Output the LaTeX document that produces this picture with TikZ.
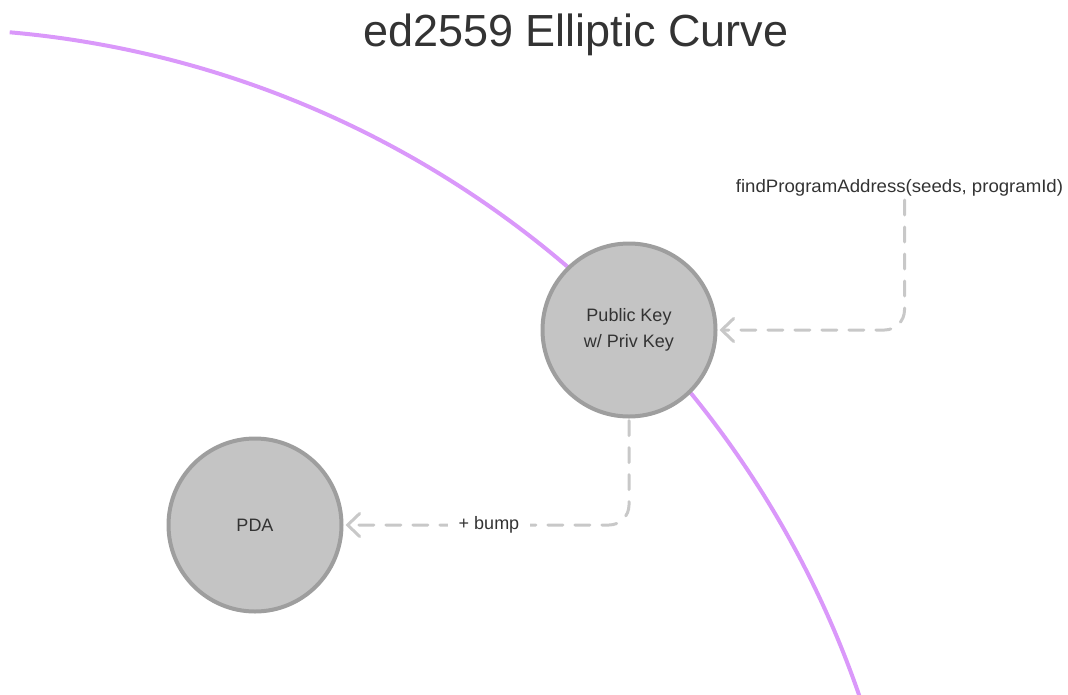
\documentclass[tikz,border=0pt]{standalone}
\usepackage{fontspec}
\setmainfont{Liberation Sans}
\usetikzlibrary{arrows.meta}
\definecolor{curvepurple}{HTML}{DA98FA}
\definecolor{keyfill}{HTML}{C4C4C4}
\definecolor{keyborder}{HTML}{9E9E9E}
\definecolor{linkgray}{HTML}{C8C8C8}
\definecolor{inktext}{HTML}{333333}
\tikzset{
  keynode/.style={circle, draw=keyborder, fill=keyfill, line width=4pt,
    minimum size=173pt, inner sep=0pt, outer sep=4pt, text=inktext,
    align=center, font=\fontsize{18}{26.5}\selectfont},
  linklabel/.style={text=inktext, font=\fontsize{18}{22}\selectfont, inner sep=0pt},
  link/.style={draw=linkgray, line width=3pt, line cap=round,
    dash pattern=on 15pt off 12pt, rounded corners=20pt,
    -{Straight Barb[length=12pt,width=23pt,line cap=round]}},
}
\begin{document}
\begin{tikzpicture}[x=1pt,y=1pt]
  \useasboundingbox (0,0) rectangle (1068,-694);
  % the curve: a large circular arc, cut off at the page edge
  \begin{scope}
    \clip (0,0) rectangle (1068,-694);
    \draw[curvepurple, line width=4pt]
      (-76.6,-1018.5) ++(85:990) arc[start angle=85, end angle=17, radius=990];
  \end{scope}

  \node[text=inktext, font=\fontsize{45}{50}\selectfont, anchor=base] (title)
    at (576,-46) {ed2559 Elliptic Curve};

  \node[keynode] (pk) at (629,-330) {Public Key\\w/ Priv Key};
  \node[keynode] (pda) at (255,-525) {PDA};

  \node[linklabel, anchor=base, xscale=1.035] (fpa) at (899.5,-192)
    {findProgramAddress(seeds, programId)};
  \coordinate (fpadrop) at (904.5,-200);

  \draw[link] (fpadrop) |- (pk.east);
  \draw[link] (pk.south) |- (pda.east);
  \node[linklabel, fill=white, inner xsep=11pt, inner ysep=4pt] (bump)
    at (489,-525) {+ bump};
\end{tikzpicture}
\end{document}
